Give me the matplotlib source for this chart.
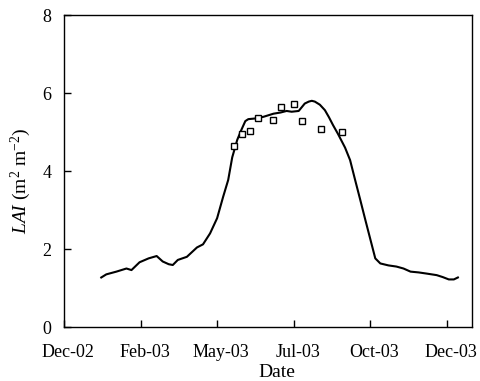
import numpy as np
import pandas as pd
import matplotlib
matplotlib.use('Agg')
import matplotlib.pyplot as plt
import matplotlib.dates as mdates
import matplotlib.transforms as mtransforms

plt.rcParams['font.family'] = 'Liberation Serif'
plt.rcParams['mathtext.fontset'] = 'custom'
plt.rcParams['mathtext.rm'] = 'Liberation Serif'
plt.rcParams['mathtext.it'] = 'Liberation Serif:italic'

START = pd.Timestamp('2002-12-01')

# simulated LAI, days since 1 Dec 2002
sim_day = [37, 42, 52, 62, 67, 75, 84, 92, 98, 104, 108, 113, 122, 132, 138,
           145, 152, 158, 163, 167, 172, 176, 180, 183, 191, 198, 208, 215,
           221, 226, 233, 239, 243, 246, 249, 254, 259, 263, 267, 272, 276,
           279, 284, 289, 294, 299, 304, 309, 314, 322, 330, 337, 344, 352,
           360, 370, 376, 382, 387, 391]
sim_lai = [1.27, 1.35, 1.42, 1.50, 1.46, 1.66, 1.76, 1.82, 1.68, 1.61, 1.59,
           1.72, 1.80, 2.04, 2.12, 2.40, 2.79, 3.34, 3.77, 4.35, 4.80, 5.05,
           5.28, 5.33, 5.35, 5.39, 5.47, 5.50, 5.54, 5.52, 5.54, 5.73, 5.78,
           5.80, 5.78, 5.70, 5.56, 5.38, 5.18, 4.95, 4.75, 4.60, 4.28, 3.77,
           3.27, 2.76, 2.26, 1.76, 1.63, 1.58, 1.55, 1.50, 1.42, 1.40, 1.37,
           1.33, 1.28, 1.22, 1.22, 1.27]

# measured LAI
obs_day = [169, 177, 185, 193, 207, 215, 228, 236, 255, 276]
obs_lai = [4.64, 4.96, 5.03, 5.37, 5.32, 5.65, 5.73, 5.29, 5.08, 5.00]

tick_step = 76
n_ticks = 6

sim_t = START + pd.to_timedelta(sim_day, unit='D')
obs_t = START + pd.to_timedelta(obs_day, unit='D')

fig = plt.figure(figsize=(4.8, 3.81), dpi=100)
ax = fig.add_axes([0.1333, 0.1417, 0.85, 0.8189])

ax.plot(sim_t, sim_lai, color='black', lw=1.5)
ax.plot(obs_t, obs_lai, ls='none', marker='s', ms=5, mfc='white',
        mec='black', mew=1.0)

ticks = [START + pd.Timedelta(days=tick_step * i) for i in range(n_ticks)]
ax.set_xticks(ticks)
ax.xaxis.set_major_formatter(mdates.DateFormatter('%b-%y'))
ax.set_xlim(START, START + pd.Timedelta(days=405))
ax.set_ylim(0, 8)
ax.set_yticks([0, 2, 4, 6, 8])

ax.tick_params(direction='in', length=5, width=1, labelsize=13)
ax.tick_params(axis='x', pad=12)
ax.tick_params(axis='y', pad=9)
for s in ax.spines.values():
    s.set_linewidth(1.0)

# date labels sit a few pixels right of their ticks
shift = mtransforms.ScaledTranslation(4 / 100, 0, fig.dpi_scale_trans)
for lbl in ax.get_xticklabels():
    lbl.set_transform(lbl.get_transform() + shift)

ax.set_xlabel('Date', fontsize=14)
ax.xaxis.set_label_coords(0.522, -0.117)
ax.set_ylabel(r'$\mathit{LAI}$ (m$^{2}$ m$^{-2}$)', fontsize=14)
ax.yaxis.set_label_coords(-0.076, 0.468)

fig.savefig('out.png', dpi=100)
